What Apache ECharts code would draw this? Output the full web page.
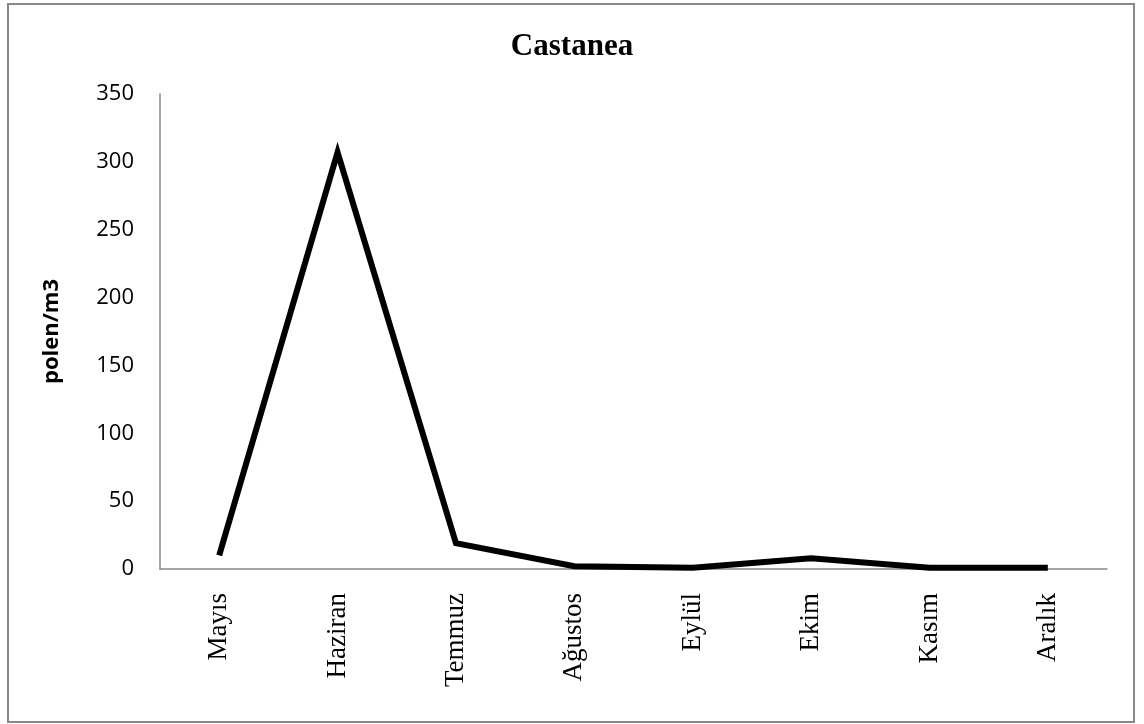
<!DOCTYPE html>
<html>
<head>
<meta charset="utf-8">
<script src="https://cdn.jsdelivr.net/npm/echarts@6/dist/echarts.min.js"></script>
<style>
  html, body { margin: 0; padding: 0; background: #fff; }
  #chart { width: 1144px; height: 724px; }
</style>
</head>
<body>
<div id="chart"></div>
<script>
// Monthly Castanea pollen counts
const months = ['Mayıs', 'Haziran', 'Temmuz', 'Ağustos', 'Eylül', 'Ekim', 'Kasım', 'Aralık'];
const pollen = [10, 307, 19, 2, 1, 8, 1, 1];
const yTicks = { min: 0, max: 350, interval: 50 };

const chart = echarts.init(document.getElementById('chart'));
chart.setOption({
  animation: false,
  backgroundColor: '#fff',
  title: {
    text: 'Castanea',
    left: 'center',
    top: 26,
    textStyle: { fontFamily: 'Liberation Serif', fontWeight: 'bold', fontSize: 31, color: '#000' }
  },
  graphic: [{
    type: 'rect',
    shape: { x: 8, y: 4, width: 1126, height: 718 },
    style: { fill: 'none', stroke: '#888', lineWidth: 2 },
    silent: true
  }],
  grid: { left: 160, right: 37, top: 94, bottom: 155 },
  xAxis: {
    type: 'category',
    data: months,
    boundaryGap: true,
    axisLine: { lineStyle: { color: '#888', width: 1.5 } },
    axisTick: { show: false },
    axisLabel: {
      rotate: 90,
      margin: 24,
      interval: 0,
      fontFamily: 'Liberation Serif',
      fontSize: 27,
      color: '#000'
    }
  },
  yAxis: {
    type: 'value',
    min: yTicks.min,
    max: yTicks.max,
    interval: yTicks.interval,
    name: 'polen/m3',
    nameLocation: 'middle',
    nameRotate: 90,
    nameGap: 97,
    nameTextStyle: { fontFamily: 'Open Sans', fontWeight: 'bold', fontSize: 22, color: '#000' },
    axisLine: { show: true, lineStyle: { color: '#888', width: 1.5 } },
    axisTick: { show: false },
    splitLine: { show: false },
    axisLabel: { margin: 26, fontFamily: 'Open Sans', fontSize: 22, color: '#000' }
  },
  series: [{
    type: 'line',
    data: pollen,
    symbol: 'none',
    lineStyle: { color: '#000', width: 6, join: 'miter' }
  }]
});
</script>
</body>
</html>
